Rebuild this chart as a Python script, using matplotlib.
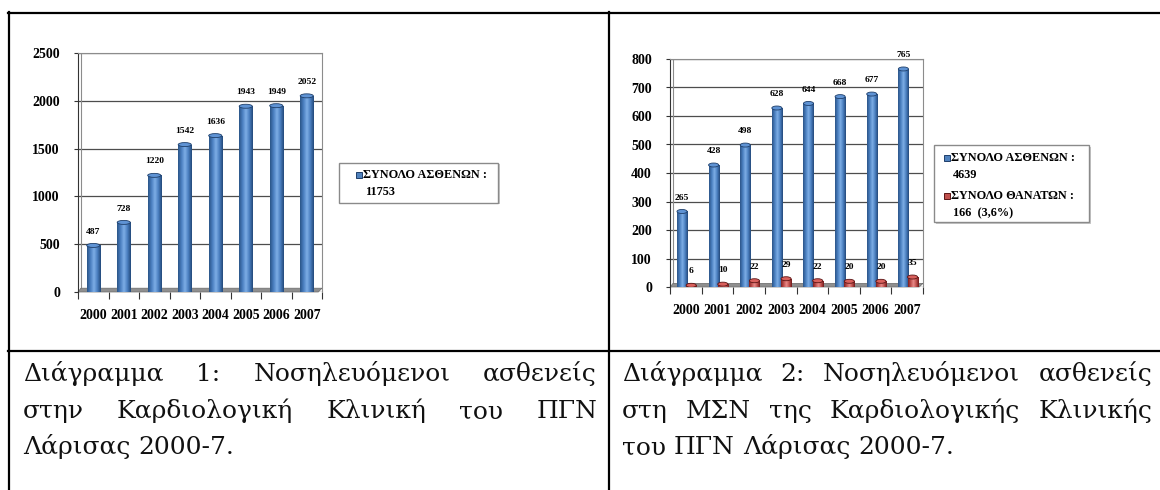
import numpy as np
import matplotlib
matplotlib.use("Agg")
import matplotlib.pyplot as plt
from matplotlib.patches import Ellipse, Rectangle, Polygon
from matplotlib.colors import LinearSegmentedColormap
from matplotlib.lines import Line2D

# --- data ---
years = ['2000', '2001', '2002', '2003', '2004', '2005', '2006', '2007']
patients_clinic = [487, 728, 1220, 1542, 1636, 1943, 1949, 2052]
patients_icu = [265, 428, 498, 628, 644, 668, 677, 765]
deaths_icu = [6, 10, 22, 29, 22, 20, 20, 35]
legend1 = ['ΣΥΝΟΛΟ ΑΣΘΕΝΩΝ :', '11753']
legend2 = [['ΣΥΝΟΛΟ ΑΣΘΕΝΩΝ :', '4639'], ['ΣΥΝΟΛΟ ΘΑΝΑΤΩΝ :', '166  (3,6%)']]
caption1 = ['Διάγραμμα 1: Νοσηλευόμενοι ασθενείς',
            'στην Καρδιολογική Κλινική του ΠΓΝ',
            'Λάρισας 2000-7.']
caption2 = ['Διάγραμμα 2: Νοσηλευόμενοι ασθενείς',
            'στη ΜΣΝ της Καρδιολογικής Κλινικής',
            'του ΠΓΝ Λάρισας 2000-7.']

W, H = 1160, 490
fig = plt.figure(figsize=(W / 100, H / 100), dpi=100)
fig.patch.set_facecolor('white')

def fx(x):
    return x / W

def fy(y):
    return 1 - y / H

bold = dict(family=['Liberation Serif', 'DejaVu Serif'], weight='bold')

blue_cmap = LinearSegmentedColormap.from_list(
    'b', ['#2b5588', '#4a7fc0', '#7eaee6', '#4a7fc0', '#23497a'])
red_cmap = LinearSegmentedColormap.from_list(
    'r', ['#7e2020', '#c0504d', '#e88a88', '#c0504d', '#6e1a1a'])
grad = np.linspace(0, 1, 64).reshape(1, -1)


def cylinders(ax, xs, vals, width, cmap, top, edge, cap_units):
    bars = ax.bar(xs, vals, width=width, color='none', edgecolor='none', zorder=3)
    for b, v in zip(bars, vals):
        x0 = b.get_x()
        im = ax.imshow(grad, extent=(x0, x0 + width, 0, v), aspect='auto',
                       cmap=cmap, zorder=3)
        im.set_clip_path(b)
        ax.add_patch(Ellipse((x0 + width / 2, v), width, cap_units,
                             facecolor=top, edgecolor=edge, lw=0.6, zorder=4))
    return bars


def setup(ax, ymax, step):
    ax.set_xlim(-0.5, 7.5)
    ax.set_ylim(0, ymax)
    ax.set_yticks(np.arange(0, ymax + 1, step))
    ax.set_xticks(range(len(years)))
    ax.set_xticklabels(years, fontsize=10, **bold)
    for lb in ax.get_yticklabels():
        lb.set_fontsize(10)
        lb.set_family(bold['family'])
        lb.set_weight('bold')
    ax.set_xticks(np.arange(-0.5, 8, 1), minor=True)
    ax.tick_params(axis='x', which='major', length=0, pad=12)
    ax.tick_params(axis='x', which='minor', length=5, width=0.8, color='#333333')
    ax.tick_params(axis='y', length=3, width=0.8, color='#333333', pad=10)
    ax.yaxis.grid(True, color='#4d4d4d', lw=0.9, zorder=1)
    ax.set_axisbelow(True)
    for s in ['top', 'right']:
        ax.spines[s].set_color('#8c8c8c')
    ax.spines['left'].set_color('#333333')
    ax.spines['bottom'].set_visible(False)
    # floor of the 3d chart
    ax.add_patch(Polygon([(0, 0), (0.985, 0), (1, 0.016), (0.012, 0.016)],
                         closed=True, transform=ax.transAxes, facecolor='#8f8f8f',
                         edgecolor='#6a6a6a', lw=0.5, clip_on=False, zorder=2))
    ax.plot([0.012, 0.012], [0.016, 1], transform=ax.transAxes,
            color='#8c8c8c', lw=0.8, zorder=1)


def labels(ax, xs, vals):
    for x, v in zip(xs, vals):
        ax.annotate(str(v), (x, v), xytext=(0, 10), textcoords='offset points',
                    ha='center', va='center', fontsize=6.8, **bold)


# --- chart 1 ---
ax1 = fig.add_axes([fx(78), fy(292), fx(322 - 78), (292 - 53) / H])
x = np.arange(len(years))
setup(ax1, 2500, 500)
cylinders(ax1, x, patients_clinic, 0.43, blue_cmap, '#5f93d4', '#1f3f6a',
          4 * 2500 / 239)
labels(ax1, x, patients_clinic)

# --- chart 2 ---
ax2 = fig.add_axes([fx(670), fy(287), fx(923 - 670), (287 - 59) / H])
setup(ax2, 800, 100)
cylinders(ax2, x - 0.12, patients_icu, 0.32, blue_cmap, '#5f93d4', '#1f3f6a',
          4 * 800 / 228)
cylinders(ax2, x + 0.17, deaths_icu, 0.32, red_cmap, '#d9605c', '#5a1414',
          4 * 800 / 228)
labels(ax2, x - 0.12, patients_icu)
labels(ax2, x + 0.17, deaths_icu)

# --- legends ---
def legend_box(x0, y0, x1, y1):
    fig.patches.append(Rectangle((fx(x0 + 1.5), fy(y1 + 1.5)), fx(x1 - x0), (y1 - y0) / H,
                                 transform=fig.transFigure, facecolor='#c8c8c8',
                                 edgecolor='none', zorder=1))
    fig.patches.append(Rectangle((fx(x0), fy(y1)), fx(x1 - x0), (y1 - y0) / H,
                                 transform=fig.transFigure, facecolor='white',
                                 edgecolor='#8a8a8a', lw=1, zorder=2))


def legend_entry(mx, my, face, edge, lines):
    fig.patches.append(Rectangle((fx(mx), fy(my + 6)), fx(6), 6 / H,
                                 transform=fig.transFigure, facecolor=face,
                                 edgecolor=edge, lw=0.7, zorder=3))
    fig.text(fx(mx + 7), fy(my + 6), lines[0], fontsize=8.8, va='baseline', **bold)
    fig.text(fx(mx + 9), fy(my + 23), lines[1], fontsize=8.8, va='baseline', **bold)


legend_box(339, 163, 498, 203)
legend_entry(356, 172, '#4f81bd', '#1f3f6a', legend1)
legend_box(934, 145, 1089, 222)
legend_entry(944, 155, '#4f81bd', '#1f3f6a', legend2[0])
legend_entry(944, 193, '#c0504d', '#5a1414', legend2[1])

# --- table frame ---
for (xa, xb), (ya, yb) in [((8, 1160), (13, 13)), ((8, 1160), (351, 351)),
                           ((9, 9), (12, 490)), ((609, 609), (12, 490))]:
    fig.add_artist(Line2D([fx(xa), fx(xb)], [fy(ya), fy(yb)],
                          transform=fig.transFigure, color='black', lw=1.6))

# --- captions (justified like the document) ---
cap_font = dict(family=['DejaVu Serif'], fontsize=18, color='#111111')
renderer = fig.canvas.get_renderer()


def justify(line, x0, x1, y, full=True):
    words = line.split(' ')
    texts = [fig.text(0, fy(y), w, va='baseline', **cap_font) for w in words]
    widths = [t.get_window_extent(renderer).width for t in texts]
    if full and len(words) > 1:
        gap = (x1 - x0 - sum(widths)) / (len(words) - 1)
    else:
        space = fig.text(0, 0, 'a a', **cap_font)
        a = fig.text(0, 0, 'aa', **cap_font)
        gap = space.get_window_extent(renderer).width - a.get_window_extent(renderer).width
        space.remove()
        a.remove()
    pos = x0
    for t, w in zip(texts, widths):
        t.set_x(fx(pos))
        pos += w + gap


baselines = [381, 418, 454]
for i, (l1, l2) in enumerate(zip(caption1, caption2)):
    justify(l1, 23, 597, baselines[i], full=i < 2)
    justify(l2, 622, 1152, baselines[i], full=i < 2)

fig.savefig('out.png', dpi=100)
